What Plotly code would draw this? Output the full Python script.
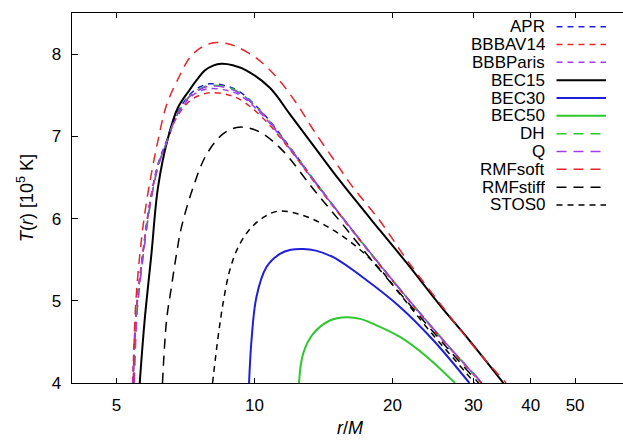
import math
import plotly.graph_objects as go

# ---------------- data ----------------
names = ["APR", "BBBAV14", "BBBParis", "BEC15", "BEC30", "BEC50",
         "DH", "Q", "RMFsoft", "RMFstiff", "STOS0"]

r_APR = [5.44, 5.53, 5.71, 5.91, 6.16, 6.43, 6.76, 7.23, 7.60, 7.99, 8.7, 9.29, 10.44, 11.94, 13.43, 15.61, 18.15, 20.76, 24.54, 27.36, 31.3]
T_APR = [4.0, 4.885, 5.57, 6.18, 6.66, 6.945, 7.27, 7.51, 7.60, 7.64, 7.61, 7.54, 7.28, 6.87, 6.48, 6.00, 5.54, 5.14, 4.66, 4.36, 4.0]

r_BBBAV14 = [5.42, 5.52, 5.70, 5.90, 6.15, 6.42, 6.75, 7.22, 7.60, 7.99, 8.7, 9.29, 10.44, 11.94, 13.43, 15.61, 18.15, 20.76, 24.54, 27.36, 31.2]
T_BBBAV14 = [4.0, 4.88, 5.56, 6.16, 6.63, 6.91, 7.22, 7.43, 7.50, 7.53, 7.51, 7.45, 7.22, 6.84, 6.46, 5.99, 5.53, 5.13, 4.65, 4.35, 4.0]

r_BBBParis = [5.43, 5.53, 5.71, 5.91, 6.16, 6.43, 6.76, 7.23, 7.60, 7.99, 8.7, 9.29, 10.44, 11.94, 13.43, 15.61, 18.15, 20.76, 24.54, 27.36, 31.3]
T_BBBParis = [4.0, 4.88, 5.57, 6.17, 6.65, 6.93, 7.24, 7.47, 7.55, 7.58, 7.56, 7.50, 7.25, 6.85, 6.47, 6.00, 5.54, 5.14, 4.66, 4.36, 4.0]

r_BEC15 = [5.62, 5.76, 5.96, 6.16, 6.48, 6.81, 7.23, 7.47, 7.79, 8.12, 8.47, 8.97, 9.61, 10.80, 11.94, 13.43, 15.35, 18.78, 21.47, 25.38, 29.5, 34.88]
T_BEC15 = [4.0, 4.76, 5.57, 6.38, 6.985, 7.35, 7.57, 7.68, 7.80, 7.86, 7.883, 7.865, 7.80, 7.59, 7.27, 6.89, 6.46, 5.855, 5.46, 4.945, 4.51, 4.0]

r_BEC30 = [9.73, 9.85, 10.10, 10.62, 11.36, 12.0, 12.77, 13.6, 14.85, 17.56, 20.76, 24.54, 29.41]
T_BEC30 = [4.0, 4.52, 5.05, 5.41, 5.57, 5.62, 5.63, 5.61, 5.53, 5.25, 4.925, 4.52, 4.0]

r_BEC50 = [12.50, 12.77, 13.43, 14.60, 15.88, 17.0, 18.15, 20.76, 23.74, 27.36]
T_BEC50 = [4.0, 4.36, 4.60, 4.76, 4.80, 4.78, 4.72, 4.56, 4.32, 4.0]

r_DH = [5.46, 5.54, 5.72, 5.92, 6.17, 6.44, 6.77, 7.24, 7.60, 7.99, 8.7, 9.29, 10.44, 11.94, 13.43, 15.61, 18.15, 20.76, 24.54, 27.36, 31.3]
T_DH = [4.0, 4.88, 5.56, 6.17, 6.65, 6.94, 7.26, 7.50, 7.58, 7.62, 7.60, 7.53, 7.27, 6.86, 6.48, 6.00, 5.54, 5.14, 4.66, 4.36, 4.0]

r_Q = [5.47, 5.55, 5.72, 5.92, 6.17, 6.44, 6.77, 7.24, 7.60, 7.99, 8.7, 9.29, 10.44, 11.94, 13.43, 15.61, 18.15, 20.76, 24.54, 27.36, 31.4]
T_Q = [4.0, 4.87, 5.55, 6.16, 6.64, 6.93, 7.25, 7.49, 7.57, 7.61, 7.59, 7.52, 7.27, 6.86, 6.48, 6.00, 5.54, 5.14, 4.66, 4.36, 4.0]

r_RMFsoft = [5.44, 5.50, 5.62, 5.76, 5.96, 6.16, 6.43, 6.87, 7.23, 7.60, 7.9, 8.26, 8.7, 9.14, 10.10, 11.17, 12.35, 13.43, 14.96, 16.29, 18.78, 21.47, 25.60, 30.0, 35.36]
T_RMFsoft = [4.0, 4.9, 5.55, 6.05, 6.55, 6.95, 7.38, 7.74, 7.96, 8.07, 8.12, 8.14, 8.13, 8.09, 7.95, 7.72, 7.40, 7.08, 6.70, 6.40, 5.97, 5.50, 4.94, 4.45, 4.0]

r_RMFstiff = [6.30, 6.43, 6.59, 6.76, 6.93, 7.35, 7.86, 8.54, 9.14, 9.75, 10.44, 11.55, 13.43, 15.61, 18.15, 20.76, 24.54, 27.36, 30.8]
T_RMFstiff = [4.0, 4.76, 5.17, 5.57, 5.895, 6.38, 6.78, 7.03, 7.107, 7.10, 7.03, 6.82, 6.36, 5.92, 5.47, 5.09, 4.62, 4.32, 4.0]

r_STOS0 = [8.10, 8.33, 8.54, 8.83, 9.21, 9.77, 10.5, 11.26, 12.56, 14.12, 16.15, 18.47, 20.76, 24.54, 27.36, 30.2]
T_STOS0 = [4.0, 4.56, 4.97, 5.37, 5.65, 5.87, 6.02, 6.09, 6.05, 5.93, 5.72, 5.43, 5.08, 4.58, 4.28, 4.0]

x_tickvals = [5, 10, 20, 30, 40, 50]
y_tickvals = [4, 5, 6, 7, 8]

series = {
    "APR": (r_APR, T_APR), "BBBAV14": (r_BBBAV14, T_BBBAV14), "BBBParis": (r_BBBParis, T_BBBParis),
    "BEC15": (r_BEC15, T_BEC15), "BEC30": (r_BEC30, T_BEC30), "BEC50": (r_BEC50, T_BEC50),
    "DH": (r_DH, T_DH), "Q": (r_Q, T_Q), "RMFsoft": (r_RMFsoft, T_RMFsoft),
    "RMFstiff": (r_RMFstiff, T_RMFstiff), "STOS0": (r_STOS0, T_STOS0),
}

# ---------------- styles ----------------
BLUE = "#1f1fd8"
RED = "#e8242b"
PURPLE = "#a03cf0"
GREEN = "#2ec82e"
BLACK = "#000000"
SHORT = "6px,5px"
LONG = "10px,7px"
styles = {
    "APR": (BLUE, SHORT, 1.5), "BBBAV14": (RED, SHORT, 1.5), "BBBParis": (PURPLE, SHORT, 1.5),
    "BEC15": (BLACK, "solid", 2.0), "BEC30": (BLUE, "solid", 2.0), "BEC50": (GREEN, "solid", 2.0),
    "DH": (GREEN, LONG, 1.5), "Q": (PURPLE, LONG, 1.5), "RMFsoft": (RED, LONG, 1.5),
    "RMFstiff": (BLACK, LONG, 1.5), "STOS0": (BLACK, SHORT, 1.5),
}

FONT = "Liberation Sans, Arial, Helvetica, sans-serif"

fig = go.Figure()
for n in names:
    r, T = series[n]
    c, d, w = styles[n]
    fig.add_trace(go.Scatter(x=r, y=T, mode="lines", name=n,
                             line=dict(color=c, dash=d, width=w, shape="spline", smoothing=1.0),
                             showlegend=False, hoverinfo="skip"))

# ---------------- layout ----------------
L, R, TOP, BOT = 72, 0, 13, 59
W, H = 623, 442
plot_h = H - TOP - BOT
plot_w = W - L - R

def py_to_paper(py):
    return (H - BOT - py) / plot_h

def px_to_paper(px):
    return (px - L) / plot_w

annotations = []
shapes = []
# manual legend: text right-aligned, line sample to the right
for i, n in enumerate(names):
    c, d, w = styles[n]
    yy = py_to_paper(26.7 + 17.83 * i)
    annotations.append(dict(x=px_to_paper(546), y=yy, xref="paper", yref="paper",
                            text=n, showarrow=False, xanchor="right", yanchor="middle",
                            height=17, valign="middle",
                            font=dict(family=FONT, size=17, color="black"), borderpad=0))
    shapes.append(dict(type="line", xref="paper", yref="paper",
                       x0=px_to_paper(556.5), x1=px_to_paper(606), y0=yy, y1=yy,
                       line=dict(color=c, dash=d, width=w)))

# axis titles
annotations.append(dict(x=px_to_paper(350), y=py_to_paper(428), xref="paper", yref="paper",
                        text="<i>r</i>/<i>M</i>", showarrow=False, xanchor="center", yanchor="middle",
                        font=dict(family=FONT, size=18, color="black")))
annotations.append(dict(x=px_to_paper(25), y=py_to_paper(198), xref="paper", yref="paper",
                        text="<i>T</i>(<i>r</i>) [10<sup>5</sup> K]", showarrow=False, textangle=-90,
                        xanchor="center", yanchor="middle",
                        font=dict(family=FONT, size=18, color="black")))

fig.update_layout(
    width=W, height=H,
    margin=dict(l=L, r=R, t=TOP, b=BOT, pad=0),
    plot_bgcolor="white", paper_bgcolor="white",
    showlegend=False,
    font=dict(family=FONT, size=17, color="black"),
    annotations=annotations, shapes=shapes,
    xaxis=dict(type="log", range=[math.log10(4.0), math.log10(63.6)],
               tickvals=x_tickvals, ticktext=[str(v) for v in x_tickvals],
               ticks="inside", ticklen=5, tickwidth=1, tickcolor="black",
               showline=True, linecolor="black", linewidth=1.3, mirror="ticks",
               showgrid=False, zeroline=False, ticklabelstandoff=6),
    yaxis=dict(range=[4.0, 8.5], tickvals=y_tickvals,
               ticks="inside", ticklen=6, tickwidth=1, tickcolor="black",
               showline=True, linecolor="black", linewidth=1.3, mirror=False,
               showgrid=False, zeroline=False, ticklabelstandoff=6),
)

fig.write_html("out.html",
               config={"displayModeBar": False, "staticPlot": True},
               post_script="document.body.style.margin='0px'; document.body.style.overflow='hidden';")
